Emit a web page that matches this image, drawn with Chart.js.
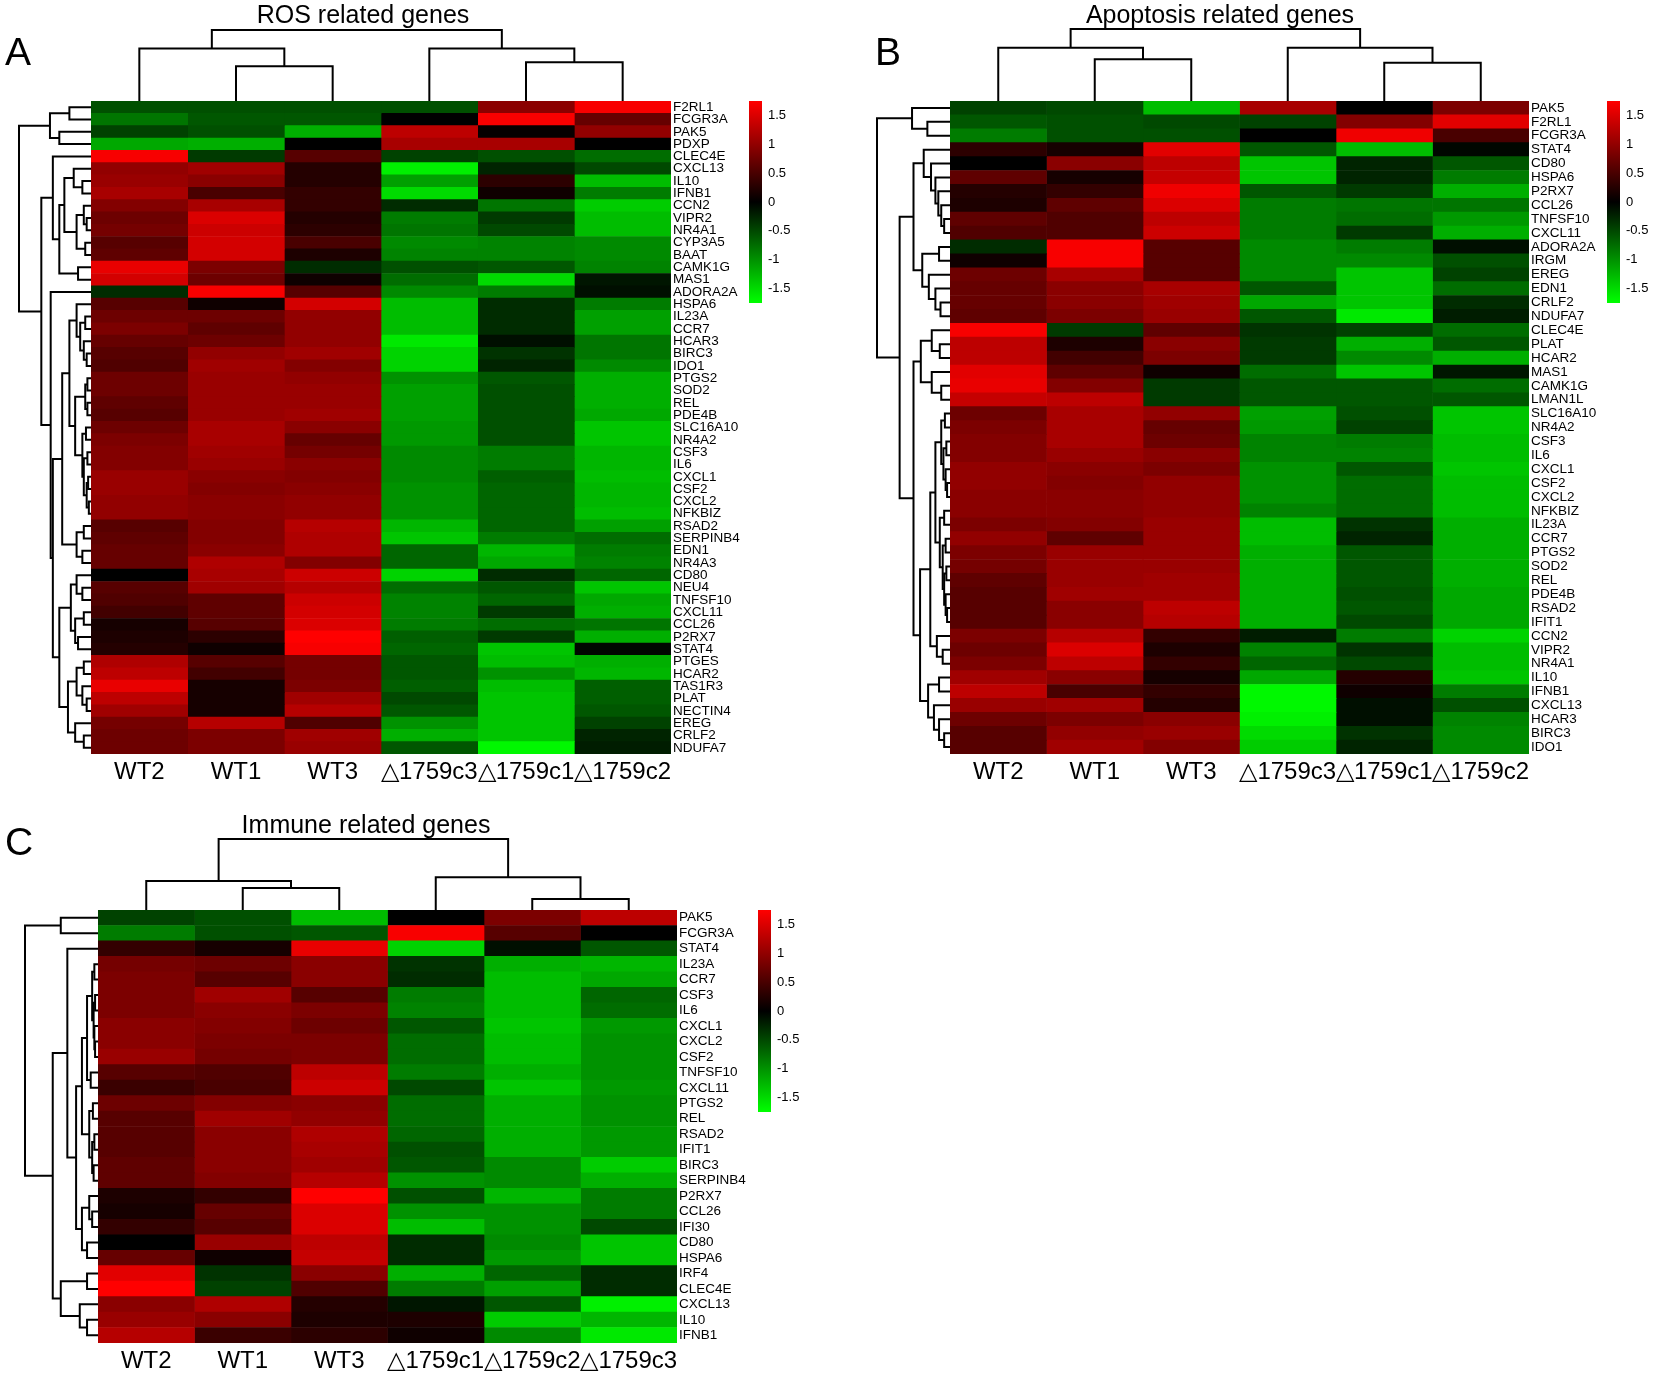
<!DOCTYPE html>
<html>
<head>
<meta charset="utf-8">
<script src="https://cdn.jsdelivr.net/npm/chart.js@4.4.1/dist/chart.umd.min.js"></script>
<style>
  body { margin: 0; background: #fff; }
  #wrap { position: relative; width: 1654px; height: 1376px; }
  canvas { position: absolute; left: 0; top: 0; }
</style>
</head>
<body>
<div id="wrap">
  <canvas id="chartA" width="1654" height="1376"></canvas>
  <canvas id="chartB" width="1654" height="1376"></canvas>
  <canvas id="chartC" width="1654" height="1376"></canvas>
</div>
<script>
'use strict';

// ---- panel A: ROS related genes ----
const genesA = ['F2RL1','FCGR3A','PAK5','PDXP','CLEC4E','CXCL13','IL10','IFNB1','CCN2','VIPR2','NR4A1','CYP3A5','BAAT','CAMK1G','MAS1','ADORA2A','HSPA6','IL23A','CCR7','HCAR3','BIRC3','IDO1','PTGS2','SOD2','REL','PDE4B','SLC16A10','NR4A2','CSF3','IL6','CXCL1','CSF2','CXCL2','NFKBIZ','RSAD2','SERPINB4','EDN1','NR4A3','CD80','NEU4','TNFSF10','CXCL11','CCL26','P2RX7','STAT4','PTGES','HCAR2','TAS1R3','PLAT','NECTIN4','EREG','CRLF2','NDUFA7'];
const samplesA = ['WT2', 'WT1', 'WT3', '△1759c3', '△1759c1', '△1759c2'];
const aWT2 = [-0.55,-0.8,-0.45,-1.15,1.7,1.0,1.05,1.15,0.9,0.75, 0.8,0.6,0.65,1.6,1.45,-0.3,0.6,0.75,0.85,0.7, 0.6,0.55,0.75,0.75,0.65,0.6,0.75,0.85,0.9,0.9, 1.05,1.05,1.0,1.0,0.6,0.65,0.7,0.7,0.0,0.6, 0.55,0.45,0.15,0.2,0.25,1.2,1.3,1.6,1.3,1.1, 0.8,0.75,0.75];
const aWT1 = [-0.55,-0.6,-0.55,-1.2,-0.4,1.1,0.95,0.5,1.15,1.5, 1.4,1.45,1.45,0.85,0.75,1.7,0.1,0.75,0.65,0.75, 1.0,1.1,1.05,1.05,1.05,1.05,1.15,1.15,1.1,1.05, 0.95,0.9,0.95,0.95,0.9,0.9,0.95,1.2,1.15,1.1, 0.65,0.65,0.6,0.3,0.1,0.6,0.45,0.15,0.15,0.15, 1.25,0.85,0.85];
const aWT3 = [-0.55,-0.6,-1.2,0.0,0.6,0.25,0.25,0.35,0.35,0.25, 0.3,0.5,0.2,-0.3,0.1,0.6,1.45,1.0,1.0,1.0, 1.1,0.9,1.0,1.05,1.05,1.1,0.95,0.7,0.8,0.95, 0.9,0.95,1.0,1.0,1.25,1.2,1.2,0.9,1.4,1.25, 1.4,1.45,1.5,1.75,1.7,0.8,0.8,0.85,1.1,1.25, 0.55,1.1,1.05];
const aC3 = [-0.55,0.0,1.3,1.15,-0.45,-1.65,-1.1,-1.5,-0.3,-0.85, -0.8,-0.95,-0.9,-0.55,-0.75,-0.95,-1.3,-1.3,-1.3,-1.6, -1.45,-1.45,-1.0,-1.1,-1.1,-1.1,-1.05,-1.05,-0.95,-0.95, -0.95,-1.0,-1.0,-1.0,-1.25,-1.35,-0.7,-0.7,-1.45,-0.75, -0.9,-0.9,-0.85,-0.65,-0.7,-0.6,-0.6,-0.65,-0.5,-0.6, -1.0,-1.2,-0.6];
const aC1 = [0.95,1.7,0.05,1.15,-0.55,-0.25,0.3,0.1,-0.8,-0.4, -0.5,-0.9,-0.9,-0.6,-1.5,-0.85,-0.3,-0.3,-0.3,-0.1, -0.35,-0.25,-0.6,-0.55,-0.55,-0.55,-0.55,-0.55,-0.85,-0.85, -0.65,-0.7,-0.7,-0.7,-0.7,-0.85,-1.25,-1.15,-0.3,-0.6, -0.7,-0.4,-0.75,-0.4,-1.35,-1.3,-1.0,-1.3,-1.35,-1.35, -1.35,-1.35,-1.7];
const aC2 = [1.7,0.7,1.0,0.0,-0.75,-0.5,-1.3,-0.85,-1.4,-1.3, -1.3,-0.95,-0.95,-0.9,-0.15,-0.1,-0.85,-1.1,-1.1,-0.8, -0.8,-0.95,-1.2,-1.2,-1.2,-1.15,-1.35,-1.35,-1.25,-1.25, -1.3,-1.25,-1.25,-1.3,-1.1,-0.75,-0.85,-0.9,-0.7,-1.35, -1.15,-1.2,-0.8,-1.2,-0.05,-1.2,-1.25,-0.65,-0.65,-0.6, -0.45,-0.25,-0.2];

// ---- panel B: Apoptosis related genes ----
const genesB = ['PAK5','F2RL1','FCGR3A','STAT4','CD80','HSPA6','P2RX7','CCL26','TNFSF10','CXCL11','ADORA2A','IRGM','EREG','EDN1','CRLF2','NDUFA7','CLEC4E','PLAT','HCAR2','MAS1','CAMK1G','LMAN1L','SLC16A10','NR4A2','CSF3','IL6','CXCL1','CSF2','CXCL2','NFKBIZ','IL23A','CCR7','PTGS2','SOD2','REL','PDE4B','RSAD2','IFIT1','CCN2','VIPR2','NR4A1','IL10','IFNB1','CXCL13','HCAR3','BIRC3','IDO1'];
const samplesB = ['WT2', 'WT1', 'WT3', '△1759c3', '△1759c1', '△1759c2'];
const bWT2 = [-0.45,-0.6,-0.85,0.3,0.0,0.65,0.25,0.2,0.65,0.55, -0.3,0.1,0.75,0.7,0.7,0.65,1.7,1.3,1.3,1.55, 1.6,1.35,0.75,0.85,0.9,0.9,1.0,1.0,0.95,0.95, 0.85,1.0,0.85,0.8,0.65,0.6,0.6,0.6,0.85,0.75, 0.85,1.1,1.3,1.05,0.75,0.6,0.6];
const bWT1 = [-0.5,-0.55,-0.55,0.15,0.95,0.15,0.35,0.65,0.55,0.55, 1.7,1.7,1.15,0.95,0.95,0.85,-0.4,0.2,0.45,0.65, 0.9,1.3,1.15,1.15,1.15,1.05,0.95,0.9,0.95,0.95, 0.9,0.65,1.05,1.05,1.05,1.1,0.95,0.95,1.25,1.5, 1.3,0.95,0.5,1.1,0.85,1.0,1.1];
const bWT3 = [-1.3,-0.5,-0.55,1.55,1.3,1.35,1.65,1.5,1.3,1.4, 0.6,0.6,0.6,1.15,1.1,1.05,0.65,0.95,0.85,0.1, -0.4,-0.4,1.0,0.7,0.75,0.95,0.85,1.0,1.0,1.0, 1.05,1.05,1.05,1.05,1.1,1.1,1.3,1.25,0.35,0.2, 0.35,0.15,0.35,0.25,0.95,1.05,0.9];
const bC3 = [1.15,-0.45,0.0,-0.6,-1.35,-1.35,-0.6,-0.85,-0.85,-0.85, -0.95,-0.95,-0.95,-0.6,-1.15,-0.6,-0.35,-0.4,-0.4,-0.75, -0.6,-0.6,-1.1,-1.05,-0.9,-0.9,-1.0,-1.0,-1.0,-0.9, -1.3,-1.3,-1.2,-1.2,-1.2,-1.2,-1.2,-1.2,-0.2,-0.9, -0.7,-1.15,-1.7,-1.7,-1.65,-1.5,-1.4];
const bC1 = [0.0,0.9,1.65,-1.3,-0.25,-0.25,-0.4,-0.8,-0.75,-0.4, -0.85,-0.95,-1.35,-1.35,-1.35,-1.6,-0.45,-1.2,-0.95,-1.35, -0.6,-0.6,-0.55,-0.45,-0.85,-0.9,-0.6,-0.75,-0.75,-0.75, -0.35,-0.25,-0.6,-0.6,-0.6,-0.55,-0.6,-0.5,-0.85,-0.35, -0.5,0.25,0.1,-0.1,-0.1,-0.35,-0.25];
const bC2 = [0.85,1.55,0.5,-0.05,-0.6,-0.85,-1.2,-0.8,-1.05,-1.2, -0.1,-0.55,-0.45,-0.75,-0.3,-0.2,-0.75,-0.6,-1.2,-0.15, -0.75,-0.6,-1.35,-1.35,-1.3,-1.3,-1.35,-1.3,-1.3,-1.3, -1.2,-1.2,-1.2,-1.2,-1.2,-1.15,-1.15,-1.15,-1.45,-1.3, -1.3,-1.35,-0.85,-0.55,-0.9,-0.95,-0.95];

// ---- panel C: Immune related genes ----
const genesC = ['PAK5','FCGR3A','STAT4','IL23A','CCR7','CSF3','IL6','CXCL1','CXCL2','CSF2','TNFSF10','CXCL11','PTGS2','REL','RSAD2','IFIT1','BIRC3','SERPINB4','P2RX7','CCL26','IFI30','CD80','HSPA6','IRF4','CLEC4E','CXCL13','IL10','IFNB1'];
const samplesC = ['WT2', 'WT1', 'WT3', '△1759c1', '△1759c2', '△1759c3'];
const cWT2 = [-0.45,-0.85,0.35,0.8,0.85,0.85,0.85,0.95,0.95,1.05, 0.6,0.4,0.75,0.6,0.6,0.6,0.65,0.65,0.2,0.15, 0.35,0.0,0.7,1.55,1.75,0.95,1.05,1.25];
const cWT1 = [-0.55,-0.55,0.15,0.75,0.6,1.1,0.95,0.9,0.85,0.8, 0.55,0.5,0.9,1.1,0.95,0.95,0.95,0.9,0.35,0.7, 0.6,1.05,0.1,-0.35,-0.45,1.2,0.95,0.4];
const cWT3 = [-1.3,-0.6,1.6,0.95,0.95,0.6,0.85,0.75,0.85,0.85, 1.3,1.4,0.95,1.0,1.2,1.15,1.1,1.25,1.75,1.5, 1.5,1.3,1.35,0.95,0.55,0.25,0.2,0.3];
const cC1 = [0.0,1.7,-1.45,-0.35,-0.3,-0.85,-0.9,-0.6,-0.75,-0.75, -0.85,-0.5,-0.75,-0.75,-0.7,-0.55,-0.6,-1.0,-0.55,-1.0, -1.3,-0.3,-0.3,-1.2,-0.85,-0.15,0.2,0.1];
const cC2 = [0.85,0.6,-0.1,-1.2,-1.3,-1.3,-1.3,-1.35,-1.3,-1.3, -1.2,-1.35,-1.2,-1.2,-1.2,-1.2,-0.95,-0.95,-1.25,-1.0, -1.0,-0.95,-1.05,-0.7,-1.1,-0.6,-1.4,-0.95];
const cC3 = [1.3,0.0,-0.6,-1.25,-1.15,-0.7,-0.75,-1.05,-1.0,-1.0, -1.0,-1.05,-1.0,-1.0,-1.05,-1.05,-1.4,-1.2,-0.85,-0.85, -0.5,-1.35,-1.35,-0.3,-0.3,-1.65,-1.25,-1.6];

// colour key
const colorMax = 1.75;
const colorTicks = [1.5, 1, 0.5, 0, -0.5, -1, -1.5];

// dendrograms: [height, left, right], leaves are row / column indexes
const colTreeA = [1, [0.74, 0, [0.49, 1, 2]], [0.74, 3, [0.545, 4, 5]]];
const colTreeB = [1, [0.74, 0, [0.58, 1, 2]], [0.74, 3, [0.53, 4, 5]]];
const colTreeC = [1, [0.41, 0, [0.31, 1, 2]], [0.46, 3, [0.155, 4, 5]]];

const rowTreeA = [1,
  [0.57, [0.3, 0, 1], [0.44, 2, 3]],
  [0.69,
    [0.53, 4, [0.44, [0.37, [0.24, 5, [0.12, 6, 7]], [0.2, [0.1, 8, [0.06, 9, 10]], [0.08, 11, 12]]], [0.18, 13, 14]]],
    [0.56, 15, [0.53,
      [0.4,
        [0.3, [0.2, 16, [0.15, [0.08, 17, 18], [0.1, 19, [0.06, 20, 21]]]],
              [0.22, [0.08, [0.05, 22, 23], [0.05, 24, 25]], [0.12, [0.07, 26, 27], [0.1, [0.05, 28, 29], [0.06, [0.04, 30, 31], [0.03, 32, 33]]]]]],
        [0.2, [0.1, 34, 35], [0.12, 36, 37]]],
      [0.44,
        [0.28, [0.2, 38, [0.12, 39, 40]], [0.22, [0.1, 41, 42], [0.18, 43, 44]]],
        [0.32, [0.2, [0.1, 45, 46], [0.12, 47, [0.06, 48, 49]]], [0.22, 50, [0.1, 51, 52]]]]]]]];

const rowTreeB = [1,
  [0.52, 0, [0.31, 1, 2]],
  [0.69,
    [0.5,
      [0.36, 3, [0.26, 4, [0.2, 5, [0.16, 6, [0.12, 7, [0.08, 8, 9]]]]]],
      [0.38, [0.15, 10, 11], [0.29, 12, [0.2, 13, [0.13, 14, 15]]]]],
    [0.5,
      [0.4, [0.25, 16, [0.14, 17, 18]], [0.25, 19, [0.12, 20, 21]]],
      [0.41,
        [0.27,
          [0.2, [0.12, [0.07, 22, 23], [0.09, [0.05, 24, 25], [0.06, 26, [0.04, 27, 28]]]],
                [0.14, [0.08, 29, 30], [0.1, [0.06, 31, 32], [0.08, [0.05, 33, 34], [0.06, 35, [0.04, 36, 37]]]]]],
          [0.18, 38, [0.1, 39, 40]]],
        [0.3, [0.15, 41, 42], [0.22, 43, [0.15, 44, [0.08, 45, 46]]]]]]]];

const rowTreeC = [1,
  [0.51, 0, 1],
  [0.62,
    [0.42, 2,
      [0.3,
        [0.22, [0.15, [0.08, [0.05, 3, 4], [0.06, [0.04, 5, 6], [0.05, 7, [0.04, 8, 9]]]], [0.1, 10, 11]],
               [0.12, [0.07, 12, 13], [0.08, [0.05, 14, 15], [0.06, 16, 17]]]],
        [0.22, [0.12, 18, [0.08, 19, 20]], [0.15, 21, 22]]]],
    [0.51, [0.15, 23, 24], [0.25, 25, [0.15, 26, 27]]]]];

const fontFamily = "'Liberation Sans', Arial, sans-serif";
const pageW = 1654, pageH = 1376;
const labelW = 90, sampleH = 45, barH = 202;

Chart.defaults.font.family = fontFamily;
Chart.defaults.color = '#000';

function heatColor(v) {
  const c = Math.round(255 * Math.min(Math.abs(v) / colorMax, 1));
  return v >= 0 ? `rgb(${c},0,0)` : `rgb(0,${c},0)`;
}

function drawTree(ctx, tree, leafPos, toXY) {
  const walk = node => {
    if (typeof node === 'number') return { p: leafPos(node), h: 0 };
    const [h, a, b] = node;
    const ra = walk(a), rb = walk(b);
    const pts = [toXY(ra.p, ra.h), toXY(ra.p, h), toXY(rb.p, h), toXY(rb.p, rb.h)];
    ctx.beginPath();
    ctx.moveTo(pts[0][0], pts[0][1]);
    pts.slice(1).forEach(q => ctx.lineTo(q[0], q[1]));
    ctx.stroke();
    return { p: (ra.p + rb.p) / 2, h };
  };
  walk(tree);
}

function decorPlugin(p) {
  return {
    id: 'decor' + p.letter,
    afterDraw(chart) {
      const ctx = chart.ctx, area = chart.chartArea;
      const xs = chart.scales.x, ys = chart.scales.y;
      ctx.save();
      ctx.strokeStyle = '#000';
      ctx.lineWidth = 2;
      ctx.lineJoin = 'miter';
      // gene dendrogram on the left
      drawTree(ctx, p.rowTree, i => ys.getPixelForValue(i),
        (pos, h) => [area.left - h * (area.left - p.rowRoot), pos]);
      // sample dendrogram on top
      drawTree(ctx, p.colTree, i => xs.getPixelForValue(i + 0.5),
        (pos, h) => [pos, area.top - h * (area.top - p.colRoot)]);

      // colour key
      const top = area.top, mid = top + barH / 2, unit = barH / (2 * colorMax);
      const grad = ctx.createLinearGradient(0, top, 0, top + barH);
      grad.addColorStop(0, heatColor(colorMax));
      grad.addColorStop(0.5, heatColor(0));
      grad.addColorStop(1, heatColor(-colorMax));
      ctx.fillStyle = grad;
      ctx.fillRect(p.barX, top, 13, barH);
      ctx.fillStyle = '#000';
      ctx.font = `13px ${fontFamily}`;
      ctx.textAlign = 'left';
      ctx.textBaseline = 'middle';
      colorTicks.forEach(v => ctx.fillText(String(v), p.barX + 19, mid - v * unit));

      // title and panel letter
      ctx.font = `25px ${fontFamily}`;
      ctx.textAlign = 'center';
      ctx.textBaseline = 'alphabetic';
      ctx.fillText(p.title, p.titleX, p.titleY);
      ctx.font = `39px ${fontFamily}`;
      ctx.textAlign = 'left';
      ctx.fillText(p.letter, p.letterX, p.letterY);
      ctx.restore();
    }
  };
}

function makeHeatmap(p) {
  const datasets = p.values.map((col, k) => ({
    label: p.samples[k],
    data: col.map(() => [k, k + 1]),
    backgroundColor: col.map(heatColor),
    borderWidth: 0,
    grouped: false,
    barPercentage: 1,
    categoryPercentage: 1
  }));
  return new Chart(document.getElementById(p.id), {
    type: 'bar',
    data: { labels: p.genes, datasets },
    options: {
      indexAxis: 'y',
      responsive: false,
      animation: false,
      layout: {
        padding: {
          left: p.box.l,
          top: p.box.t,
          right: pageW - p.box.r - labelW,
          bottom: pageH - p.box.b - sampleH
        }
      },
      scales: {
        x: {
          type: 'linear',
          position: 'bottom',
          min: 0,
          max: p.samples.length,
          grid: { display: false, drawTicks: false },
          border: { display: false },
          afterBuildTicks: s => { s.ticks = p.samples.map((_, i) => ({ value: i + 0.5 })); },
          afterFit: s => { s.height = sampleH; },
          ticks: {
            autoSkip: false,
            maxRotation: 0,
            padding: 4,
            font: { size: 24 },
            color: '#000',
            callback: (v, i) => p.samples[i]
          }
        },
        y: {
          type: 'category',
          position: 'right',
          grid: { display: false, drawTicks: false },
          border: { display: false },
          afterFit: s => { s.width = labelW; },
          ticks: { autoSkip: false, padding: 2, font: { size: 13.5 }, color: '#000' }
        }
      },
      plugins: { legend: { display: false }, tooltip: { enabled: false } }
    },
    plugins: [decorPlugin(p)]
  });
}

const panels = [
  { id: 'chartA', letter: 'A', title: 'ROS related genes', genes: genesA, samples: samplesA,
    values: [aWT2, aWT1, aWT3, aC3, aC1, aC2], rowTree: rowTreeA, colTree: colTreeA,
    box: { l: 91, r: 671, t: 101, b: 754 }, rowRoot: 19, colRoot: 30, barX: 749,
    titleX: 363, titleY: 23, letterX: 5, letterY: 65 },
  { id: 'chartB', letter: 'B', title: 'Apoptosis related genes', genes: genesB, samples: samplesB,
    values: [bWT2, bWT1, bWT3, bC3, bC1, bC2], rowTree: rowTreeB, colTree: colTreeB,
    box: { l: 950, r: 1529, t: 101, b: 754 }, rowRoot: 877, colRoot: 29, barX: 1607,
    titleX: 1220, titleY: 23, letterX: 875, letterY: 65 },
  { id: 'chartC', letter: 'C', title: 'Immune related genes', genes: genesC, samples: samplesC,
    values: [cWT2, cWT1, cWT3, cC1, cC2, cC3], rowTree: rowTreeC, colTree: colTreeC,
    box: { l: 98, r: 677, t: 910, b: 1343 }, rowRoot: 25, colRoot: 839, barX: 758,
    titleX: 366, titleY: 833, letterX: 5, letterY: 855 }
];

panels.forEach(makeHeatmap);
</script>
</body>
</html>
